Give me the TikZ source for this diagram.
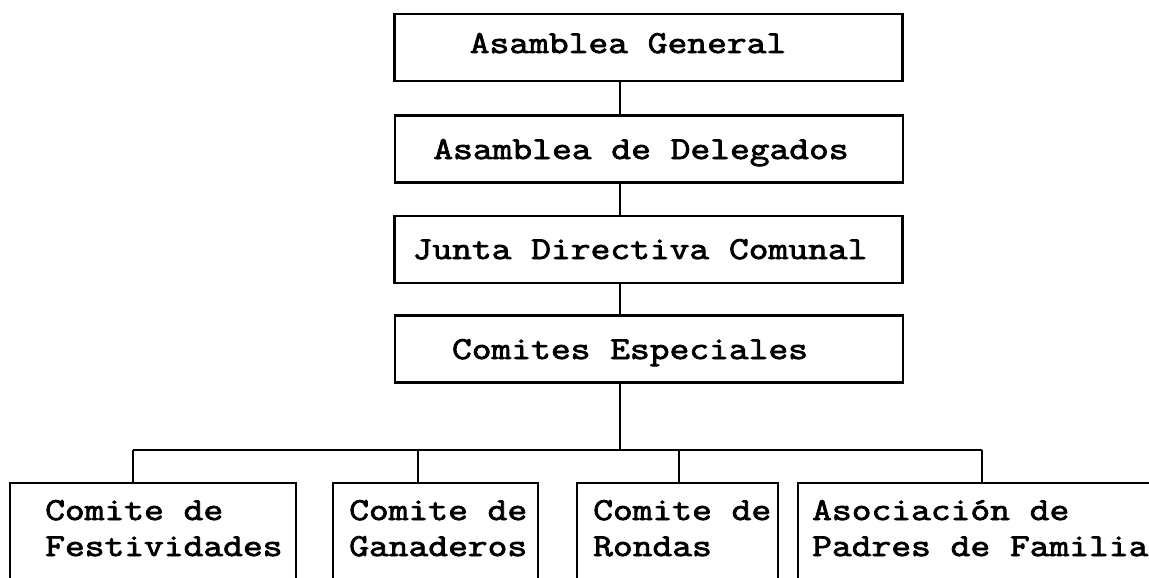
\documentclass[tikz,border=0pt]{standalone}
\usepackage{fontspec}
\newfontfamily\orgfont[FakeStretch=1.2, FakeBold=2.5]{Latin Modern Mono}
\tikzstyle{org_box} = [
    rectangle, 
    draw=black, 
    line width=2.4pt, 
    inner sep=0pt, 
    minimum width=508pt, 
    minimum height=67pt
]
\tikzstyle{low_box} = [
    rectangle, 
    draw=black, 
    line width=2.4pt, 
    inner sep=0pt, 
    minimum height=157pt
]
\tikzstyle{org_text} = [
    font=\orgfont\fontsize{32}{36}\selectfont, 
    inner sep=0pt, 
    anchor=base
]
\tikzstyle{low_text} = [
    font=\orgfont\fontsize{32}{36}\selectfont, 
    inner sep=0pt, 
    anchor=base west
]
\tikzstyle{link} = [
    line width=2.2pt
]

\begin{document}
\begin{tikzpicture}[x=1pt, y=-1pt]
\clip (0,0) rectangle (1149,578);
% upper chain
\node [org_box] (general) at (648.5,47.5) {};
\node [org_box] (delegados) at (649,149) {};
\node [org_box] (junta) at (648.5,249.5) {};
\node [org_box] (comites) at (649,349) {};
\node [org_text] (t_general) at (628,53) {Asamblea General};
\node [org_text] (t_delegados) at (641,159) {Asamblea de Delegados};
\node [org_text] (t_junta) at (640,259) {Junta Directiva Comunal};
\node [org_text] (t_comites) at (630,359) {Comites Especiales};
% lower row (cut off by the page)
\node [low_box, minimum width=286pt] (festividades) at (153,561.5) {};
\node [low_box, minimum width=205pt] (ganaderos) at (435.5,561.5) {};
\node [low_box, minimum width=201pt] (rondas) at (677.5,561.5) {};
\node [low_box, minimum width=372pt] (padres) at (984,561.5) {};
\node [low_text] (t_festividades) at (45,520)
    {\begin{tabular}[t]{@{}l@{}}Comite de\\Festividades\end{tabular}};
\node [low_text] (t_ganaderos) at (349,520)
    {\begin{tabular}[t]{@{}l@{}}Comite de\\Ganaderos\end{tabular}};
\node [low_text] (t_rondas) at (593,520)
    {\begin{tabular}[t]{@{}l@{}}Comite de\\Rondas\end{tabular}};
\node [low_text] (t_padres) at (812,520)
    {\begin{tabular}[t]{@{}l@{}}Asociaci\'on de\\Padres de Familia\end{tabular}};
% connectors
\coordinate (spine) at (620,450);
\coordinate (d_fest) at (133,450);
\coordinate (d_gana) at (418,450);
\coordinate (d_rond) at (679,450);
\coordinate (d_padr) at (982,450);
\draw [link] (general.south -| spine) -- (delegados.north -| spine);
\draw [link] (delegados.south -| spine) -- (junta.north -| spine);
\draw [link] (junta.south -| spine) -- (comites.north -| spine);
\draw [link] (comites.south -| spine) -- (spine);
\draw [link] (d_fest) -- (d_padr);
\draw [link] (d_fest) -- (d_fest |- festividades.north);
\draw [link] (d_gana) -- (d_gana |- ganaderos.north);
\draw [link] (d_rond) -- (d_rond |- rondas.north);
\draw [link] (d_padr) -- (d_padr |- padres.north);
\end{tikzpicture}
\end{document}
